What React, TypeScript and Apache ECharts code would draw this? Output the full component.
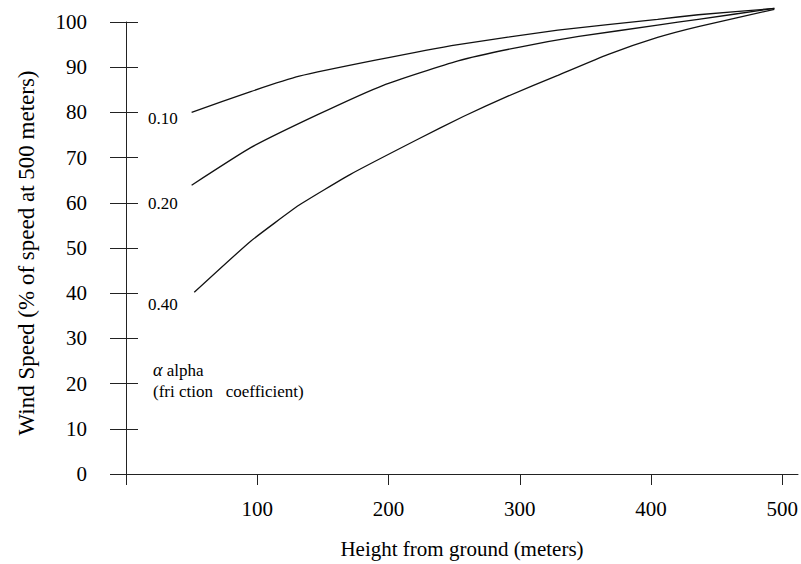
import React, { useEffect, useRef } from "react";
import * as echarts from "echarts";

const xTicks = [0, 100, 200, 300, 400, 500];
const xLabels = [100, 200, 300, 400, 500];
const yTicks = [0, 10, 20, 30, 40, 50, 60, 70, 80, 90, 100];

const heights10 = [50, 95, 132, 191, 253, 329, 405, 436, 494];
const speeds10 = [80.0, 84.6, 88.0, 91.6, 95.0, 98.2, 100.6, 101.6, 103.0];

const heights20 = [50, 95, 146, 196, 253, 299, 345, 405, 436, 494];
const speeds20 = [63.9, 72.2, 79.5, 86.0, 91.4, 94.4, 96.8, 99.3, 100.6, 103.0];

const heights40 = [52, 95, 132, 171, 222, 257, 291, 329, 367, 405, 436, 494];
const speeds40 = [40.2, 51.5, 59.5, 66.3, 74.0, 79.1, 83.6, 88.2, 92.8, 96.6, 99.0, 102.8];

const curveLabels = ["0.10", "0.20", "0.40"];
const alphaLine1 = "alpha";
const alphaLine2 = "(fri ction\u00a0\u00a0\u00a0coefficient)";
const xName = "Height from ground (meters)";
const yName = "Wind Speed (% of speed at 500 meters)";

const FONT = '"Liberation Serif", "Times New Roman", serif';

function zip(xs: number[], ys: number[]) {
  return xs.map((x, i) => [x, ys[i]]);
}

export default function App() {
  const ref = useRef<HTMLDivElement>(null);
  useEffect(() => {
    if (!ref.current) return;
    const chart = echarts.init(ref.current, null, { renderer: "svg" });
    const axisColor = "#222";
    const lineStyle = { color: "#111", width: 1.3 };
    const yBase = {
      type: "value",
      min: 0,
      max: 100,
      interval: 10,
      splitLine: { show: false },
    };
    chart.setOption({
      animation: false,
      backgroundColor: "#fff",
      grid: { left: 126, top: 22, right: 0, bottom: 88, containLabel: false },
      xAxis: {
        type: "value",
        min: 0,
        max: 512,
        interval: 100,
        name: xName,
        nameLocation: "middle",
        nameGap: 64,
        nameTextStyle: { fontFamily: FONT, fontSize: 21, color: "#000" },
        axisLine: { show: true, lineStyle: { color: axisColor, width: 1 } },
        axisTick: { show: true, length: 11, customValues: xTicks, lineStyle: { color: axisColor } },
        axisLabel: {
          fontFamily: FONT,
          fontSize: 21,
          color: "#000",
          margin: 24,
          customValues: xLabels,
        },
        splitLine: { show: false },
      },
      yAxis: [
        {
          ...yBase,
          name: yName,
          nameLocation: "middle",
          nameGap: 88,
          nameTextStyle: { fontFamily: FONT, fontSize: 23, color: "#000", padding: [0, 10, 0, 0] },
          axisLine: { show: true, lineStyle: { color: axisColor, width: 1 } },
          axisTick: { show: true, length: 16, lineStyle: { color: axisColor } },
          axisLabel: {
            fontFamily: FONT,
            fontSize: 21,
            color: "#000",
            margin: 39,
            formatter: (v: number) => (yTicks.includes(v) ? String(v) : ""),
          },
        },
        {
          ...yBase,
          position: "left",
          axisLine: { show: false },
          axisTick: { show: true, inside: true, length: 12, lineStyle: { color: axisColor } },
          axisLabel: { show: false },
        },
      ],
      series: [
        { type: "line", data: zip(heights10, speeds10), showSymbol: false, clip: false, lineStyle, smooth: 0.15 },
        { type: "line", data: zip(heights20, speeds20), showSymbol: false, clip: false, lineStyle, smooth: 0.15 },
        { type: "line", data: zip(heights40, speeds40), showSymbol: false, clip: false, lineStyle, smooth: 0.15 },
      ],
      graphic: [
        { type: "text", x: 148, y: 118, style: { text: curveLabels[0], font: `17px ${FONT}`, fill: "#000", verticalAlign: "middle" } },
        { type: "text", x: 148, y: 203, style: { text: curveLabels[1], font: `17px ${FONT}`, fill: "#000", verticalAlign: "middle" } },
        { type: "text", x: 148, y: 304, style: { text: curveLabels[2], font: `17px ${FONT}`, fill: "#000", verticalAlign: "middle" } },
        {
          type: "text",
          x: 153,
          y: 370,
          style: {
            text: "{a|α} " + alphaLine1,
            font: `17px ${FONT}`,
            fill: "#000",
            verticalAlign: "middle",
            rich: { a: { fontStyle: "italic", fontFamily: FONT, fontSize: 18, fill: "#000" } },
          },
        },
        { type: "text", x: 153, y: 391, style: { text: alphaLine2, font: `17px ${FONT}`, fill: "#000", verticalAlign: "middle" } },
      ],
    });
    return () => chart.dispose();
  }, []);
  return (
    <div
      ref={ref}
      style={{ position: "absolute", left: 0, top: 0, width: 801, height: 564, background: "#fff" }}
    />
  );
}
